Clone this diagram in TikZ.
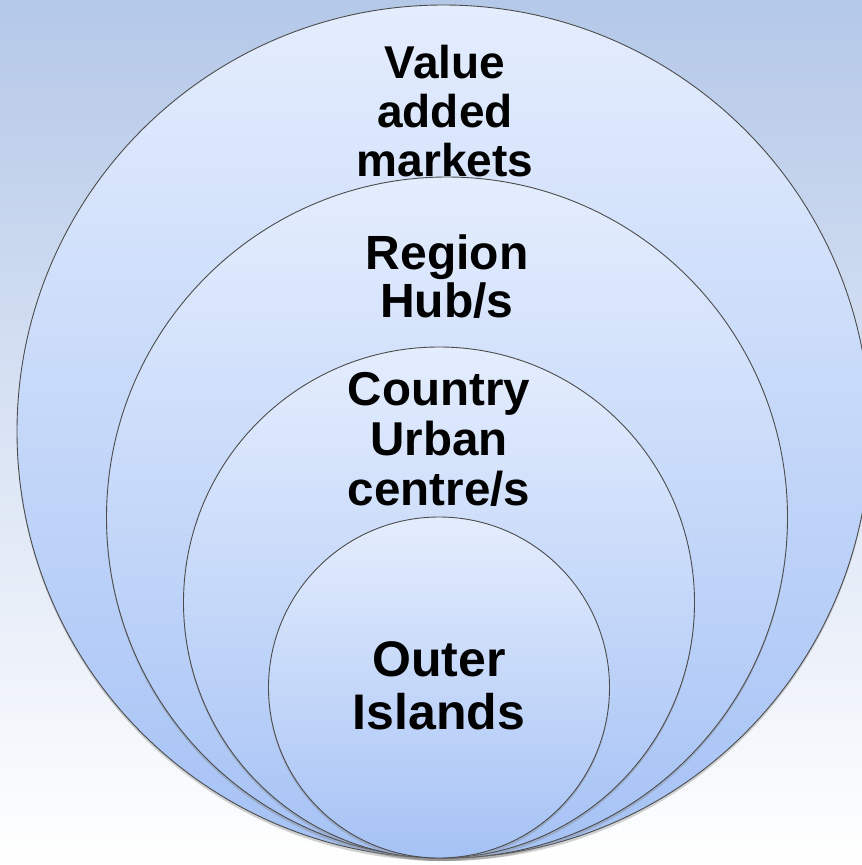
\documentclass[tikz,border=0pt]{standalone}
\usepackage{fontspec}
\setmainfont{Liberation Sans}
\usetikzlibrary{shadows}
\definecolor{bgtop}{HTML}{B4C8E8}
\definecolor{ringtop}{HTML}{E4EDFD}
\definecolor{ringbottom}{HTML}{A5C2F5}

\begin{document}
\begin{tikzpicture}[x=1pt,y=-1pt,
  ring/.style={circle, draw=black!70, line width=0.9pt, inner sep=0pt, outer sep=0pt,
    top color=ringtop, bottom color=ringbottom,
    drop shadow={shadow xshift=0pt, shadow yshift=-3pt, opacity=0.35}},
  ringtext/.style={align=center, inner sep=0pt, font=\fontsize{47.5}{50}\selectfont\bfseries}]
\useasboundingbox (0,0) rectangle (862,865);
\node[rectangle, inner sep=0pt, minimum width=862pt, minimum height=865pt,
  top color=bgtop, bottom color=white] (bg) at (431,432.5) {};

% rings, all touching at the bottom
\node[ring, minimum size=853pt] (markets) at (443.5,431.5) {};
\node[ring, minimum size=681pt] (hubs) at (447,517.5) {};
\node[ring, minimum size=511pt] (urban) at (439,602.5) {};
\node[ring, minimum size=341pt] (islands) at (439,687.5) {};

\node[ringtext, font=\fontsize{46}{49}\selectfont\bfseries] (marketstext) at (445,111) {Value\\added\\markets};
\node[ringtext, font=\fontsize{48}{48}\selectfont\bfseries] (hubstext) at (447,277) {Region\\Hub/s};
\node[ringtext] (urbantext) at (439,439) {Country\\Urban\\centre/s};
\node[ringtext, font=\fontsize{50}{53}\selectfont\bfseries] (islandstext) at (439,686) {Outer\\Islands};
\end{tikzpicture}
\end{document}
